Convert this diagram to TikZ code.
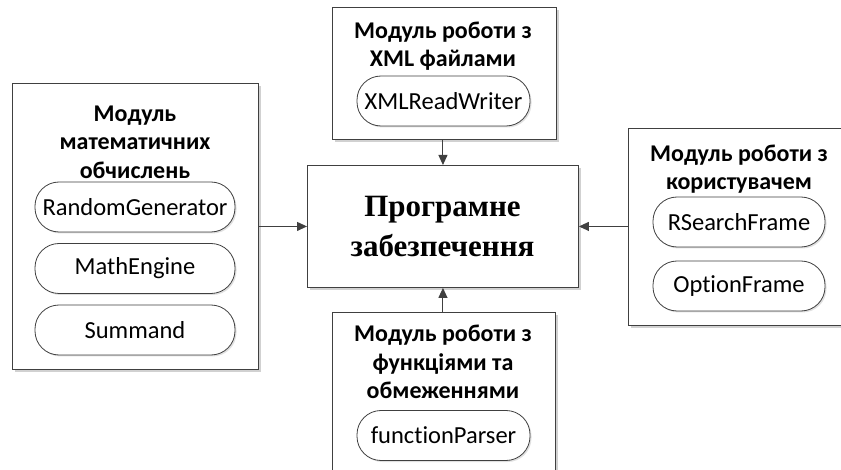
\documentclass[tikz,border=0pt]{standalone}
\usepackage{fontspec}
\setmainfont{Carlito}[Ligatures={NoCommon,NoRare,NoDiscretionary}]
\newfontfamily\serifbold{Liberation Serif}
\usetikzlibrary{arrows.meta,shadows}
\definecolor{edge}{HTML}{404040}
\begin{document}
\begin{tikzpicture}[x=1pt,y=-1pt,
  modbox/.style={draw=edge,line width=0.9pt,fill=white,drop shadow={shadow xshift=2.5pt,shadow yshift=-2.5pt,fill=black!18,opacity=1}},
  pill/.style={draw=edge,line width=0.8pt,fill=white,rounded corners=24pt,minimum height=50pt,
     font=\fontsize{24.5}{28}\selectfont,inner sep=0pt,drop shadow={shadow xshift=1.5pt,shadow yshift=-1.5pt,fill=black!12,opacity=1}},
  title/.style={align=center,font=\bfseries\fontsize{24}{28.5}\selectfont,inner sep=0pt},
  arr/.style={draw=edge,line width=1pt,-{Triangle[length=10pt,width=9pt]}}]
\useasboundingbox (0,0) rectangle (841,470);
\clip (0,0) rectangle (841,470);
% boxes
\node[modbox,minimum width=271pt,minimum height=122pt,inner sep=0pt,anchor=north west] (center) at (307,165) {};
\node[align=center,font=\serifbold\bfseries\fontsize{31}{40}\selectfont,inner sep=0pt] (ctext) at (442.5,227) {Програмне\\забезпечення};
\node[modbox,minimum width=224pt,minimum height=132pt,inner sep=0pt,anchor=north west] (top) at (332,7) {};
\node[modbox,minimum width=246pt,minimum height=286pt,inner sep=0pt,anchor=north west] (left) at (12,83) {};
\node[modbox,minimum width=240pt,minimum height=197pt,inner sep=0pt,anchor=north west] (right) at (628,128) {};
\node[modbox,minimum width=223pt,minimum height=190pt,inner sep=0pt,anchor=north west] (bottom) at (332,312) {};
% titles
\node[title] (ttop) at (443,46) {Модуль роботи з\\XML файлами};
\node[title] (tleft) at (135,142) {Модуль\\математичних\\обчислень};
\node[title] (tright) at (739,169) {Модуль роботи з\\користувачем};
\node[title] (tbottom) at (443,362) {Модуль роботи з\\функціями та\\обмеженнями};
% pills
\node[pill,minimum width=173pt] (xml) at (443.5,101) {XMLReadWriter};
\node[pill,minimum width=200pt] (rg) at (135,207) {RandomGenerator};
\node[pill,minimum width=200pt] (me) at (135,268.5) {MathEngine};
\node[pill,minimum width=200pt] (sm) at (135,330) {Summand};
\node[pill,minimum width=172pt] (rs) at (739,222) {RSearchFrame};
\node[pill,minimum width=172pt] (of) at (739,286) {OptionFrame};
\node[pill,minimum width=173pt] (fp) at (443.5,435.5) {functionParser};
% connectors
\draw[arr] (left.east |- center.west) -- (center.west);
\draw[arr] (right.west |- center.east) -- (center.east);
\draw[arr] (top.south -| center.north) -- (center.north);
\draw[arr] (bottom.north -| center.south) -- (center.south);
\end{tikzpicture}
\end{document}
